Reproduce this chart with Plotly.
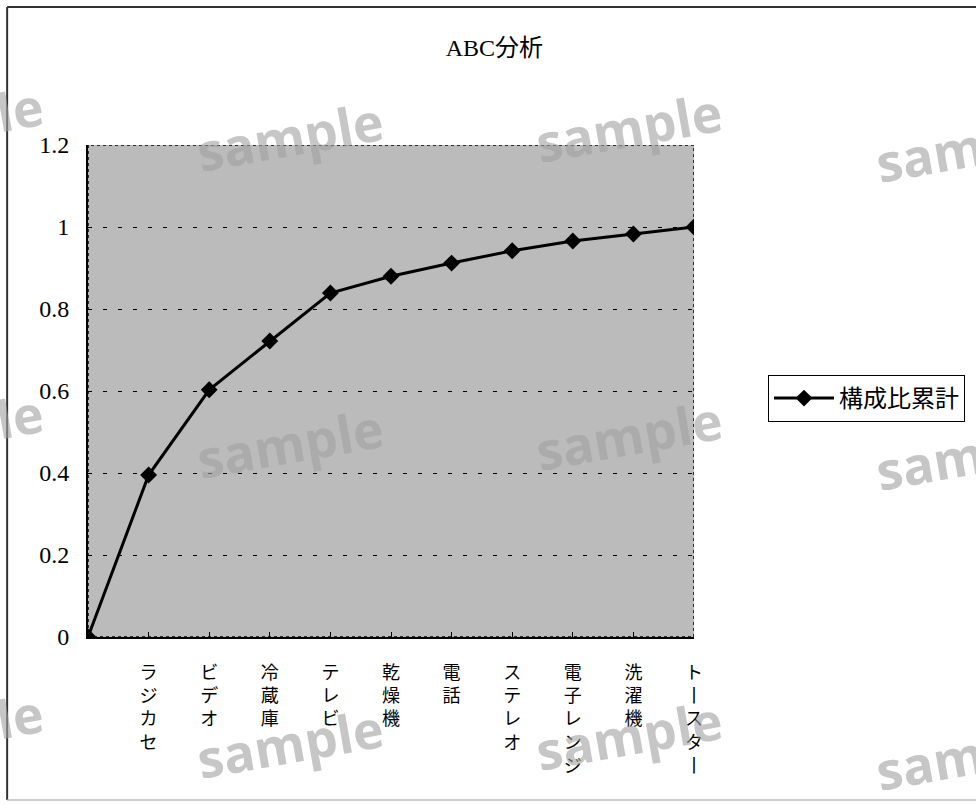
import plotly.graph_objects as go

# Product categories (first slot is the zero origin) and cumulative share
categories = ["", "ラジカセ", "ビデオ", "冷蔵庫", "テレビ", "乾燥機", "電話",
              "ステレオ", "電子レンジ", "洗濯機", "トースター"]
cumulative = [0.0, 0.395, 0.603, 0.722, 0.839, 0.880, 0.912,
              0.942, 0.966, 0.983, 1.0]
y_ticks = [0, 0.2, 0.4, 0.6, 0.8, 1.0, 1.2]
y_tick_text = ["0", "0.2", "0.4", "0.6", "0.8", "1", "1.2"]
series_name = "構成比累計"
chart_title = "ABC分析"

W, H = 976, 812
L, R, T, B = 88, 695, 145, 637


def px_x(px):
    return (px - L) / (R - L)


def px_y(py):
    return (B - py) / (B - T)


def stack(label):
    # upright vertical label: one character per line, long-vowel mark turned vertical
    return "<br>".join("丨" if ch == "ー" else ch for ch in label)


xs = list(range(len(categories)))

fig = go.Figure()
fig.add_trace(go.Scatter(
    x=xs, y=cumulative, name=series_name, mode="lines+markers",
    line=dict(color="black", width=3),
    marker=dict(symbol="diamond", size=13, color="black"),
    showlegend=True,
))

serif = "Liberation Serif, Times New Roman, Noto Sans CJK JP, serif"
cjk = "Noto Sans CJK JP, sans-serif"

fig.update_layout(
    width=W, height=H,
    margin=dict(l=L, r=W - R, t=T, b=H - B),
    paper_bgcolor="white",
    plot_bgcolor="#bbbbbb",
    title=dict(text=chart_title, x=px_x(495), xref="paper", xanchor="center",
               y=1 - 48 / H, yanchor="middle",
               font=dict(family=serif, size=24, color="black")),
    xaxis=dict(
        range=[0, len(categories) - 1],
        tickmode="array", tickvals=xs, ticktext=[stack(c) for c in categories],
        tickfont=dict(family=cjk, size=18, color="black"),
        ticks="inside", ticklen=5, tickcolor="black", tickwidth=1,
        ticklabelstandoff=18,
        showgrid=False, zeroline=False,
        showline=True, linecolor="black", linewidth=2,
        tickangle=0,
    ),
    yaxis=dict(
        range=[0, 1.2],
        tickmode="array", tickvals=y_ticks, ticktext=y_tick_text,
        tickfont=dict(family=serif, size=24, color="black"),
        ticks="", ticklabelstandoff=12,
        showgrid=True, gridcolor="black", gridwidth=1, griddash="4px,11px",
        zeroline=False,
        showline=True, linecolor="black", linewidth=2,
    ),
    legend=dict(
        x=px_x(768), xanchor="left", y=px_y(398.5), yanchor="middle",
        bgcolor="white", bordercolor="black", borderwidth=1,
        font=dict(family=cjk, size=24, color="black"),
        itemwidth=60,
    ),
    showlegend=True,
)

# dotted frame on top and right of the plot area
fig.add_shape(type="rect", xref="x", yref="y", x0=0, x1=len(categories) - 1,
              y0=0, y1=1.2, line=dict(color="black", width=1.5, dash="dot"),
              layer="below")

# outer chart border
fig.add_shape(type="line", xref="paper", yref="paper",
              x0=px_x(7), x1=px_x(990), y0=px_y(7), y1=px_y(7),
              line=dict(color="#333333", width=2))
fig.add_shape(type="line", xref="paper", yref="paper",
              x0=px_x(7), x1=px_x(7), y0=px_y(7), y1=px_y(800),
              line=dict(color="#333333", width=2))
fig.add_shape(type="line", xref="paper", yref="paper",
              x0=px_x(7), x1=px_x(990), y0=px_y(800), y1=px_y(800),
              line=dict(color="#bbbbbb", width=1.5))

# "sample" watermark grid
marks = []
for row_y in (135, 442, 742):
    for col_x, off in ((-50, -15), (290, 0), (630, -8), (970, 12)):
        marks.append((col_x, row_y + off))
for mx, my in marks:
    fig.add_annotation(text="sample", xref="paper", yref="paper",
                       x=px_x(mx), y=px_y(my), xanchor="center", yanchor="middle",
                       showarrow=False, textangle=-10,
                       font=dict(family="Open Sans, sans-serif", size=52,
                                 color="rgba(160,160,160,0.6)", weight="bold"))

fig.write_html("out.html")
